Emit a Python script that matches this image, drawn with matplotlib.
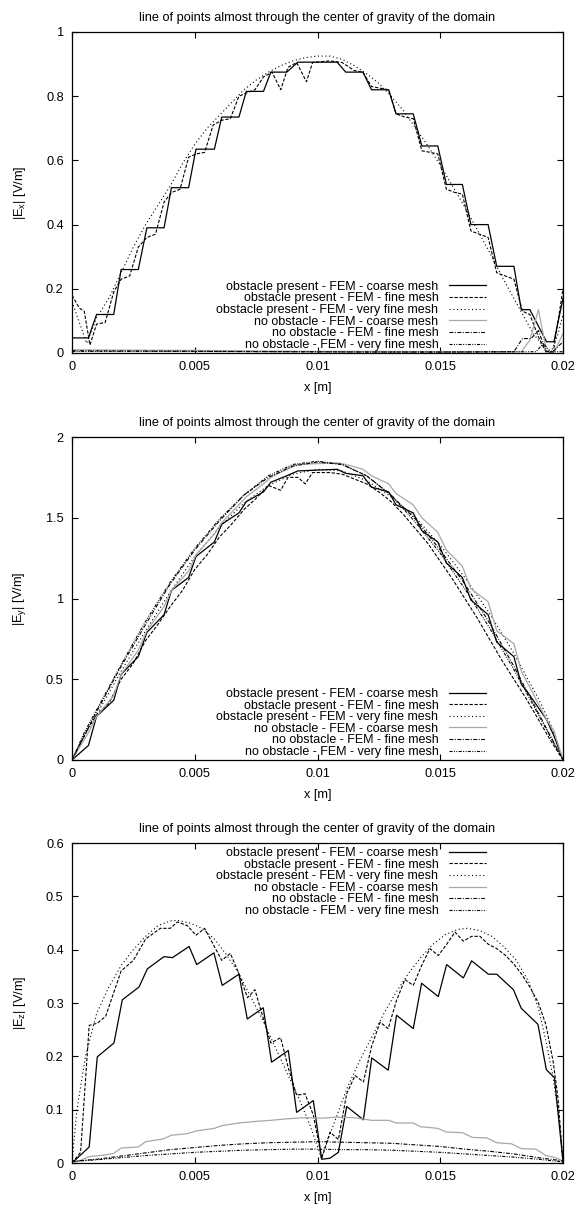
import numpy as np
import matplotlib
matplotlib.use("Agg")
import matplotlib.pyplot as plt

plt.rcParams['font.family'] = ['Liberation Sans', 'DejaVu Sans']
plt.rcParams['lines.scale_dashes'] = False

# ---------------- data (x in mm, converted to m) ----------------
title = "line of points almost through the center of gravity of the domain"
labels = ["obstacle present - FEM - coarse mesh",
          "obstacle present - FEM - fine mesh",
          "obstacle present - FEM - very fine mesh",
          "no obstacle - FEM - coarse mesh",
          "no obstacle - FEM - fine mesh",
          "no obstacle - FEM - very fine mesh"]
xticks = [0, 0.005, 0.01, 0.015, 0.02]
xticklabels = ["0", "0.005", "0.01", "0.015", "0.02"]

# ---- |Ex| ----
ex_obs_coarse_x = [0, 0.67, 1.0, 1.7, 2.0, 2.7, 3.05, 3.75, 4.05, 4.75, 5.05, 5.8, 6.1, 6.8, 7.1, 7.8,
                   8.1, 8.75, 9.2, 10.8, 11.15, 11.85, 12.2, 12.9, 13.2, 13.9, 14.25, 14.9, 15.25, 15.9,
                   16.25, 16.95, 17.3, 18.0, 18.3, 18.65, 19.33, 19.63, 20.0]
ex_obs_coarse_y = [0.047, 0.047, 0.12, 0.12, 0.26, 0.26, 0.39, 0.39, 0.515, 0.515, 0.635, 0.635,
                   0.735, 0.735, 0.815, 0.815, 0.875, 0.875, 0.906, 0.906, 0.875, 0.875, 0.82, 0.82,
                   0.745, 0.745, 0.645, 0.645, 0.525, 0.525, 0.40, 0.40, 0.27, 0.27, 0.135, 0.135,
                   0.035, 0.035, 0.17]
ex_obs_fine_x = [0, 0.3, 0.5, 0.73, 1.0, 1.35, 1.7, 2.0, 2.35, 2.7, 3.05, 3.4, 3.75, 4.05, 4.4, 4.75,
                 5.05, 5.4, 5.75, 6.1, 6.45, 6.8, 7.1, 7.45, 7.8, 8.15, 8.5, 8.8, 9.15, 9.55, 9.8, 10.5,
                 11.0, 11.5, 11.85, 12.2, 12.55, 12.9, 13.2, 13.55, 13.9, 14.25, 14.6, 14.9, 15.25,
                 15.6, 15.9, 16.25, 16.6, 16.95, 17.3, 17.65, 18.0, 18.35, 18.65, 19.0, 19.33, 19.6, 20.0]
ex_obs_fine_y = [0.18, 0.14, 0.13, 0.025, 0.09, 0.095, 0.19, 0.23, 0.24, 0.33, 0.36, 0.37, 0.47, 0.50,
                 0.51, 0.61, 0.62, 0.625, 0.71, 0.725, 0.73, 0.80, 0.81, 0.82, 0.86, 0.875, 0.82, 0.89,
                 0.905, 0.845, 0.905, 0.91, 0.905, 0.88, 0.875, 0.83, 0.825, 0.82, 0.745, 0.735, 0.73,
                 0.63, 0.625, 0.62, 0.51, 0.50, 0.495, 0.38, 0.37, 0.36, 0.25, 0.24, 0.23, 0.13, 0.12,
                 0.05, 0.0, 0.0, 0.2]
ex_obs_vfine_x = [0, 0.6, 1.0, 1.5, 2.0, 2.5, 3.0, 3.5, 4.0, 4.5, 5.0, 5.5, 6.0, 6.5, 7.0, 7.5, 8.0,
                  8.5, 9.0, 9.5, 10.0, 10.5, 11.0, 11.5, 12.0, 12.5, 13.0, 13.5, 14.0, 14.5, 15.0,
                  15.5, 16.0, 16.5, 17.0, 17.5, 18.0, 18.5, 18.8, 19.2, 19.5, 19.8, 20.0]
ex_obs_vfine_y = [0.16, 0.03, 0.11, 0.17, 0.25, 0.33, 0.40, 0.46, 0.52, 0.59, 0.65, 0.70, 0.74, 0.78,
                  0.82, 0.85, 0.875, 0.895, 0.91, 0.92, 0.925, 0.925, 0.915, 0.895, 0.87, 0.84, 0.80,
                  0.755, 0.70, 0.645, 0.585, 0.52, 0.455, 0.385, 0.315, 0.24, 0.17, 0.10, 0.06, 0.02,
                  0.0, 0.06, 0.12]
ex_no_coarse_x = [0, 2, 5, 8, 10, 12, 15, 18.3, 18.65, 19.0, 19.33, 19.65, 20]
ex_no_coarse_y = [0.010, 0.009, 0.008, 0.006, 0.005, 0.005, 0.004, 0.004, 0.04, 0.135, 0.005, 0.005, 0.06]
ex_no_fine_x = [0, 3, 6, 9, 12, 15, 18.0, 18.35, 18.7, 19.0, 19.3, 19.6, 20]
ex_no_fine_y = [0.007, 0.006, 0.005, 0.004, 0.003, 0.003, 0.004, 0.045, 0.045, 0.07, 0.005, 0.005, 0.035]
ex_no_vfine_x = [0, 4, 8, 12, 16, 18.9, 19.2, 19.5, 20]
ex_no_vfine_y = [0.005, 0.005, 0.004, 0.003, 0.003, 0.004, 0.03, 0.004, 0.004]

# ---- |Ey| ----
ey_obs_coarse_x = ex_obs_coarse_x
ey_obs_coarse_y = [0.0, 0.09, 0.27, 0.37, 0.53, 0.64, 0.79, 0.90, 1.05, 1.13, 1.26, 1.35, 1.46, 1.53,
                   1.60, 1.66, 1.72, 1.76, 1.79, 1.80, 1.775, 1.76, 1.69, 1.66, 1.58, 1.53, 1.42, 1.35,
                   1.22, 1.13, 0.99, 0.90, 0.73, 0.64, 0.47, 0.40, 0.25, 0.15, 0.0]
ey_obs_fine_x = [0, 0.67, 1.0, 1.5, 2.0, 2.5, 3.0, 3.5, 4.0, 4.5, 5.0, 5.5, 6.0, 6.5, 7.0, 7.5, 8.0,
                 8.5, 8.8, 9.2, 9.5, 9.8, 10.5, 11.0, 11.5, 12.0, 12.5, 13.0, 13.5, 14.0, 14.5, 15.0,
                 15.5, 16.0, 16.5, 17.0, 17.5, 18.0, 18.5, 19.0, 19.5, 20.0]
ey_obs_fine_y = [0.0, 0.2, 0.28, 0.35, 0.5, 0.6, 0.74, 0.84, 0.95, 1.05, 1.18, 1.27, 1.38, 1.46, 1.55,
                 1.62, 1.70, 1.67, 1.75, 1.75, 1.71, 1.78, 1.78, 1.77, 1.74, 1.71, 1.66, 1.60, 1.52,
                 1.43, 1.34, 1.23, 1.12, 1.0, 0.88, 0.75, 0.62, 0.5, 0.38, 0.25, 0.12, 0.0]
ey_obs_vfine_x = [0, 0.5, 1, 2, 3, 4, 5, 6, 7, 8, 9, 10, 11, 12, 13, 14, 15, 16, 17, 18, 19, 19.5, 20]
ey_obs_vfine_y = [0.0, 0.15, 0.28, 0.55, 0.80, 1.04, 1.26, 1.44, 1.59, 1.70, 1.77, 1.80, 1.79, 1.73,
                  1.63, 1.50, 1.33, 1.13, 0.91, 0.66, 0.38, 0.22, 0.0]
ey_no_coarse_x = ex_obs_coarse_x
ey_no_coarse_y = [0.0, 0.17, 0.27, 0.40, 0.53, 0.68, 0.80, 0.95, 1.05, 1.17, 1.27, 1.40, 1.47, 1.58,
                  1.63, 1.71, 1.75, 1.80, 1.83, 1.84, 1.83, 1.80, 1.76, 1.71, 1.65, 1.58, 1.50, 1.41,
                  1.30, 1.20, 1.06, 0.98, 0.80, 0.72, 0.55, 0.45, 0.25, 0.18, 0.0]
ey_no_fine_x = [0, 1, 2, 3, 4, 5, 6, 7, 8, 9, 10, 11, 12, 13, 14, 15, 16, 17, 18, 19, 20]
ey_no_fine_y = [0.0, 0.30, 0.58, 0.84, 1.09, 1.30, 1.48, 1.64, 1.75, 1.82, 1.845, 1.83, 1.76, 1.64,
                1.49, 1.30, 1.09, 0.85, 0.58, 0.29, 0.0]
ey_no_vfine_x = [0, 0.5, 1, 2, 3, 4, 5, 6, 7, 8, 9, 10, 11, 12, 13, 14, 15, 16, 17, 18, 19, 20]
ey_no_vfine_y = [0.0, 0.17, 0.31, 0.59, 0.86, 1.10, 1.31, 1.49, 1.64, 1.76, 1.83, 1.85, 1.83, 1.76,
                 1.64, 1.47, 1.28, 1.06, 0.82, 0.56, 0.28, 0.0]

# ---- |Ez| ----
ez_obs_coarse_x = [0, 0.70, 1.03, 1.71, 2.05, 2.73, 3.07, 3.75, 4.09, 4.77, 5.08, 5.78, 6.12, 6.80,
                   7.14, 7.79, 8.13, 8.81, 9.15, 9.83, 10.17, 10.51, 10.85, 11.19, 11.87, 12.21, 12.88,
                   13.22, 13.90, 14.24, 14.92, 15.26, 15.94, 16.28, 16.96, 17.30, 17.98, 18.3, 18.98,
                   19.32, 19.65, 20.0]
ez_obs_coarse_y = [0.0, 0.030, 0.199, 0.225, 0.306, 0.330, 0.364, 0.387, 0.385, 0.406, 0.372, 0.394,
                   0.333, 0.354, 0.270, 0.291, 0.189, 0.211, 0.095, 0.117, 0.007, 0.009, 0.020, 0.106,
                   0.081, 0.197, 0.174, 0.277, 0.252, 0.337, 0.312, 0.372, 0.347, 0.379, 0.354, 0.354,
                   0.325, 0.29, 0.26, 0.175, 0.16, 0.003]
ez_obs_fine_x = [0, 0.35, 0.70, 1.03, 1.37, 2.0, 2.5, 3.0, 3.6, 4.0, 4.3, 4.7, 5.05, 5.4, 5.75, 6.1,
                 6.45, 6.8, 7.15, 7.45, 7.8, 8.1, 8.5, 8.8, 9.15, 9.49, 9.83, 10.17, 10.51, 10.85, 11.19,
                 11.53, 11.87, 12.21, 12.55, 12.88, 13.22, 13.56, 13.9, 14.24, 14.58, 14.92, 15.26,
                 15.6, 15.94, 16.28, 16.62, 16.96, 17.3, 17.64, 17.98, 18.3, 18.65, 19.0, 19.3, 19.6,
                 19.8, 20.0]
ez_obs_fine_y = [0.0, 0.02, 0.258, 0.262, 0.275, 0.36, 0.38, 0.42, 0.44, 0.44, 0.452, 0.445, 0.427,
                 0.44, 0.41, 0.38, 0.393, 0.355, 0.31, 0.325, 0.27, 0.225, 0.235, 0.18, 0.127, 0.13,
                 0.09, 0.008, 0.058, 0.044, 0.13, 0.164, 0.152, 0.22, 0.264, 0.252, 0.305, 0.344,
                 0.333, 0.37, 0.402, 0.389, 0.41, 0.433, 0.416, 0.425, 0.425, 0.41, 0.402, 0.39,
                 0.374, 0.355, 0.33, 0.30, 0.26, 0.19, 0.12, 0.0]
ez_obs_vfine_x = [0, 0.2, 0.55, 1.0, 1.5, 2.0, 2.5, 3.0, 3.5, 4.0, 4.3, 4.8, 5.3, 5.8, 6.3, 6.8, 7.3,
                  7.8, 8.3, 8.8, 9.3, 9.7, 10.15, 10.4, 10.8, 11.2, 11.7, 12.2, 12.7, 13.2, 13.7, 14.2,
                  14.7, 15.2, 15.7, 16.1, 16.6, 17.1, 17.6, 18.1, 18.6, 19.0, 19.3, 19.6, 19.85, 20.0]
ez_obs_vfine_y = [0.0, 0.10, 0.20, 0.28, 0.33, 0.37, 0.40, 0.425, 0.445, 0.454, 0.455, 0.45, 0.44,
                  0.42, 0.39, 0.355, 0.31, 0.265, 0.215, 0.165, 0.115, 0.07, 0.01, 0.04, 0.09, 0.14,
                  0.19, 0.235, 0.28, 0.32, 0.355, 0.385, 0.41, 0.428, 0.438, 0.44, 0.436, 0.425,
                  0.405, 0.38, 0.34, 0.29, 0.23, 0.16, 0.08, 0.0]
ez_no_coarse_x = [0, 0.35, 0.7, 1.35, 1.7, 2.0, 2.7, 3.0, 3.7, 4.05, 4.7, 5.05, 5.8, 6.1, 6.8, 7.5,
                  8.1, 8.8, 9.5, 10.2, 10.8, 11.5, 12.2, 12.9, 13.2, 13.9, 14.2, 14.9, 15.25, 15.9,
                  16.3, 16.9, 17.3, 17.9, 18.3, 18.9, 19.3, 19.7, 20.0]
ez_no_coarse_y = [0.0, 0.005, 0.012, 0.015, 0.018, 0.028, 0.030, 0.040, 0.045, 0.052, 0.055, 0.060,
                  0.065, 0.070, 0.075, 0.078, 0.080, 0.083, 0.085, 0.084, 0.086, 0.085, 0.080, 0.080,
                  0.075, 0.075, 0.068, 0.065, 0.058, 0.057, 0.048, 0.047, 0.038, 0.036, 0.027, 0.026,
                  0.014, 0.010, 0.004]
ez_no_fine_x = [0, 1, 2, 3, 4, 5, 6, 7, 8, 9, 10, 11, 12, 13, 14, 15, 16, 17, 18, 19, 20]
ez_no_fine_y = [0.003, 0.007, 0.013, 0.019, 0.025, 0.029, 0.033, 0.036, 0.038, 0.039, 0.040, 0.039,
                0.038, 0.037, 0.034, 0.031, 0.026, 0.022, 0.017, 0.010, 0.004]
ez_no_vfine_x = [0, 1, 2, 3, 4, 5, 6, 7, 8, 9, 10, 11, 12, 13, 14, 15, 16, 17, 18, 19, 20]
ez_no_vfine_y = [0.003, 0.006, 0.010, 0.014, 0.017, 0.020, 0.022, 0.024, 0.025, 0.026, 0.026, 0.025,
                 0.025, 0.024, 0.022, 0.020, 0.017, 0.014, 0.011, 0.007, 0.002]

panels = [
    dict(ylabel=r"|E$_\mathregular{x}$| [V/m]", ylim=(0, 1),
         yticks=[0, 0.2, 0.4, 0.6, 0.8, 1], yticklabels=["0", "0.2", "0.4", "0.6", "0.8", "1"],
         series=[(ex_obs_coarse_x, ex_obs_coarse_y), (ex_obs_fine_x, ex_obs_fine_y),
                 (ex_obs_vfine_x, ex_obs_vfine_y), (ex_no_coarse_x, ex_no_coarse_y),
                 (ex_no_fine_x, ex_no_fine_y), (ex_no_vfine_x, ex_no_vfine_y)],
         legend_loc="lower"),
    dict(ylabel=r"|E$_\mathregular{y}$| [V/m]", ylim=(0, 2),
         yticks=[0, 0.5, 1, 1.5, 2], yticklabels=["0", "0.5", "1", "1.5", "2"],
         series=[(ey_obs_coarse_x, ey_obs_coarse_y), (ey_obs_fine_x, ey_obs_fine_y),
                 (ey_obs_vfine_x, ey_obs_vfine_y), (ey_no_coarse_x, ey_no_coarse_y),
                 (ey_no_fine_x, ey_no_fine_y), (ey_no_vfine_x, ey_no_vfine_y)],
         legend_loc="lower"),
    dict(ylabel=r"|E$_\mathregular{z}$| [V/m]", ylim=(0, 0.6),
         yticks=[0, 0.1, 0.2, 0.3, 0.4, 0.5, 0.6],
         yticklabels=["0", "0.1", "0.2", "0.3", "0.4", "0.5", "0.6"],
         series=[(ez_obs_coarse_x, ez_obs_coarse_y), (ez_obs_fine_x, ez_obs_fine_y),
                 (ez_obs_vfine_x, ez_obs_vfine_y), (ez_no_coarse_x, ez_no_coarse_y),
                 (ez_no_fine_x, ez_no_fine_y), (ez_no_vfine_x, ez_no_vfine_y)],
         legend_loc="upper"),
]

# ---------------- styles ----------------
styles = [
    dict(color="black", linestyle="-", lw=0.9),
    dict(color="black", linestyle=(0, (2.4, 1.2)), lw=0.8),
    dict(color="black", linestyle=(0, (0.8, 1.9)), lw=0.8),
    dict(color="#a8a8a8", linestyle="-", lw=0.9),
    dict(color="black", linestyle=(0, (2.8, 1.1, 0.7, 1.1)), lw=0.8),
    dict(color="black", linestyle=(0, (2.2, 1.0, 0.7, 1.0, 0.7, 1.0)), lw=0.8),
]

FS = 9.2
W, H = 577, 1211
fig = plt.figure(figsize=(W / 100, H / 100), dpi=100)
L, R = 72, 563
boxes = [(32, 353), (437, 760), (843, 1163)]

for p, (top, bot) in zip(panels, boxes):
    ax = fig.add_axes([L / W, 1 - bot / H, (R - L) / W, (bot - top) / H])
    for (xs, ys), st, lab in zip(p["series"], styles, labels):
        ax.plot(np.array(xs) * 1e-3, ys, label=lab, **st)
    ax.set_xlim(0, 0.02)
    ax.set_ylim(*p["ylim"])
    ax.set_xticks(xticks)
    ax.set_xticklabels(xticklabels)
    ax.set_yticks(p["yticks"])
    ax.set_yticklabels(p["yticklabels"])
    ax.tick_params(direction="in", top=True, right=True, length=4, width=0.8,
                   labelsize=FS, pad=6)
    for s in ax.spines.values():
        s.set_linewidth(0.9)
    ax.set_title(title, fontsize=FS, pad=8)
    ax.set_xlabel("x [m]", fontsize=FS)
    ax.xaxis.label.set_va("center")
    ax.xaxis.set_label_coords(0.5, -35 / (bot - top))
    ax.set_ylabel(p["ylabel"], fontsize=FS)
    ax.yaxis.label.set_va("center")
    ax.yaxis.set_label_coords(-52 / (R - L), 0.5)
    if p["legend_loc"] == "lower":
        anchor = ((486 - L) / (R - L), 2 / (bot - top))
        loc = "lower right"
    else:
        anchor = ((486 - L) / (R - L), 1 - 4 / (bot - top))
        loc = "upper right"
    ax.legend(loc=loc, bbox_to_anchor=anchor, frameon=False, markerfirst=False,
              fontsize=9.0, handlelength=3.0, handletextpad=0.8, labelspacing=-0.03,
              borderpad=0, borderaxespad=0)

fig.savefig("out.png", dpi=100)
